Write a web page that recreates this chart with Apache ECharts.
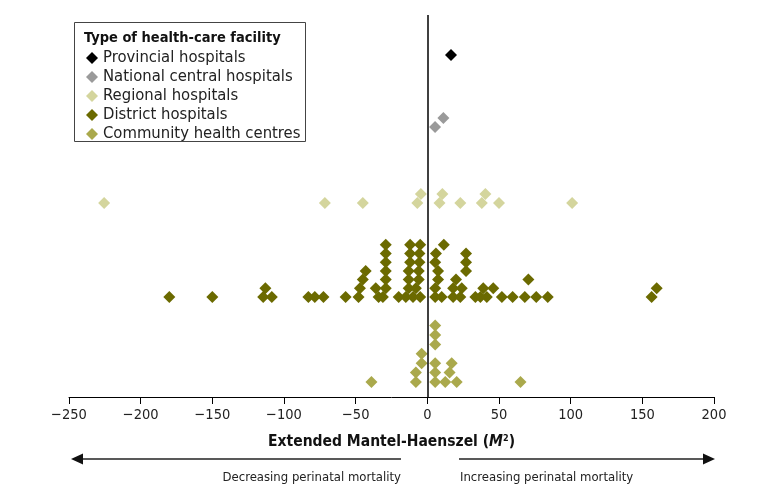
<!DOCTYPE html>
<html><head><meta charset="utf-8">
<script src="https://cdn.jsdelivr.net/npm/echarts@6/dist/echarts.min.js"></script>
<style>html,body{margin:0;padding:0;background:#fff}#c{width:771px;height:499px}</style>
</head><body><div id="c"></div>
<script>
// ---------- DATA ----------
const categories = ['Provincial hospitals', 'National central hospitals', 'Regional hospitals', 'District hospitals', 'Community health centres'];
const xTicks = [-250, -200, -150, -100, -50, 0, 50, 100, 150, 200];

// M2 values per facility, and the pile (stack) index of each dot in the dot plot
const provincialX = [16.5];
const provincialStack = [0];

const nationalX = [5.4, 11.2];
const nationalStack = [0, 1];

const regionalX = [-225.5, -71.5, -45, -7, -4.5, 8.5, 10.5, 23, 38, 40.5, 50, 101];
const regionalStack = [0, 0, 0, 0, 1, 0, 1, 0, 0, 1, 0, 0];

const districtX = [-180, -150, -114.5, -108.5, -83, -78.5, -72.5, -57, -48, -34, -31, -20, -15, -10, -5, 5.5, 10, 18, 23, 33.5, 37, 41.5, 52, 59.5, 68, 76, 84, 156.5,
  -113, -47, -36, -29, -13, -8, 5.5, 18, 24, 39, 46, 160,
  -45, -29, -13, -6, 7.5, 20, 70.5,
  -43, -29, -13, -6, 7.5, 27,
  -29, -12, -5.5, 5.5, 27,
  -29, -12, -5.5, 6, 27,
  -29, -12, -5, 11.5];
const districtStack = [0, 0, 0, 0, 0, 0, 0, 0, 0, 0, 0, 0, 0, 0, 0, 0, 0, 0, 0, 0, 0, 0, 0, 0, 0, 0, 0, 0,
  1, 1, 1, 1, 1, 1, 1, 1, 1, 1, 1, 1,
  2, 2, 2, 2, 2, 2, 2,
  3, 3, 3, 3, 3, 3,
  4, 4, 4, 4, 4,
  5, 5, 5, 5, 5,
  6, 6, 6, 6];

const communityX = [-39, -8, -8, -4, -4, 5.5, 5.5, 5.5, 5.5, 5.5, 5.5, 12.5, 15.5, 17, 20.5, 65];
const communityStack = [0, 0, 1, 2, 3, 0, 1, 2, 4, 5, 6, 0, 1, 2, 0, 0];

// ---------- LAYOUT / STYLE ----------
const colors = ['#000000', '#9a9a9a', '#d4d59d', '#6b6a00', '#aaa94c'];
const rowBase = [342, 270, 194, 100, 15];   // baseline of each row on the hidden y scale
const stackStep = [9, 9, 9, 8.7, 9.4];
const FONT = "'Liberation Sans Narrow', 'DejaVu Sans Condensed', 'Roboto Condensed', sans-serif";

const xs = [provincialX, nationalX, regionalX, districtX, communityX];
const st = [provincialStack, nationalStack, regionalStack, districtStack, communityStack];

const series = categories.map((name, i) => ({
  name,
  type: 'scatter',
  symbol: 'diamond',
  symbolSize: 12,
  itemStyle: { color: colors[i], opacity: 1 },
  data: xs[i].map((v, j) => [v, rowBase[i] + st[i][j] * stackStep[i]]),
  z: 3
}));
series[0].markLine = {
  silent: true, symbol: 'none', animation: false,
  label: { show: false },
  lineStyle: { color: '#000', width: 1.5, type: 'solid' },
  data: [{ xAxis: 0 }]
};

const chart = echarts.init(document.getElementById('c'), null, { renderer: 'canvas' });
chart.setOption({
  animation: false,
  backgroundColor: '#fff',
  grid: { left: 69, right: 57, top: 15, bottom: 102 },
  xAxis: {
    type: 'value', min: xTicks[0], max: xTicks[xTicks.length - 1], interval: 50,
    splitLine: { show: false },
    axisLine: { lineStyle: { color: '#000', width: 1 } },
    axisTick: { show: true, length: 7, lineStyle: { color: '#000' } },
    axisLabel: { color: '#222', fontFamily: FONT, fontSize: 14.5, margin: 11,
      formatter: v => String(v).replace('-', '\u2212') },
    name: 'Extended Mantel-Haenszel ({i|M}{s|2})',
    nameLocation: 'middle', nameGap: 37,
    nameTextStyle: { color: '#111', fontFamily: FONT, fontSize: 15.5, fontWeight: 'bold',
      rich: {
        i: { fontFamily: FONT, fontSize: 15.5, fontWeight: 'bold', fontStyle: 'italic', color: '#111' },
        s: { fontFamily: FONT, fontSize: 9, fontWeight: 'bold', color: '#111', padding: [0, 0, 7, 0] }
      } }
  },
  yAxis: { type: 'value', min: 0, max: 382, show: false },
  legend: {
    data: categories, orient: 'vertical', left: 81, top: 44.5,
    icon: 'diamond', itemWidth: 12, itemHeight: 12, itemGap: 2,
    textStyle: { fontFamily: FONT, fontSize: 16.5, color: '#222', lineHeight: 15 }
  },
  graphic: [
    { type: 'rect', shape: { x: 74.5, y: 22.5, width: 231, height: 119 }, style: { fill: 'none', stroke: '#444', lineWidth: 1 }, z: 0 },
    { type: 'text', x: 84, y: 31, style: { text: 'Type of health-care facility', font: "bold 14.5px " + FONT, fill: '#111' } },
    { type: 'line', shape: { x1: 80, y1: 459, x2: 401, y2: 459 }, style: { stroke: '#222', lineWidth: 1.6 } },
    { type: 'polygon', shape: { points: [[71, 459], [83, 453.5], [83, 464.5]] }, style: { fill: '#111' } },
    { type: 'line', shape: { x1: 459, y1: 459, x2: 705, y2: 459 }, style: { stroke: '#222', lineWidth: 1.6 } },
    { type: 'polygon', shape: { points: [[715, 459], [703, 453.5], [703, 464.5]] }, style: { fill: '#111' } },
    { type: 'text', x: 401, y: 471, style: { text: 'Decreasing perinatal mortality', font: "13px " + FONT, fill: '#222', align: 'right' } },
    { type: 'text', x: 460, y: 471, style: { text: 'Increasing perinatal mortality', font: "13px " + FONT, fill: '#222', align: 'left' } }
  ],
  series
});
</script></body></html>
